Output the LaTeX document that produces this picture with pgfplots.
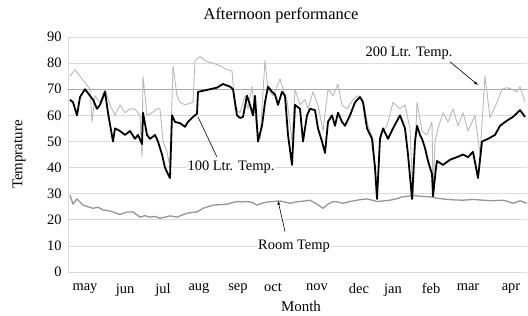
\documentclass[border=0pt]{standalone}
\usepackage{fontspec}
\setmainfont{Liberation Serif}
\usepackage{pgfplots}
\pgfplotsset{compat=1.18}
\usetikzlibrary{arrows.meta}
\definecolor{gridc}{HTML}{DADADA}
\definecolor{seventy}{HTML}{A8A8A8}
\definecolor{twohund}{HTML}{B8B8B8}
\definecolor{roomc}{HTML}{959595}
\begin{document}
\begin{tikzpicture}[x=1bp,y=1bp]
\begin{axis}[
  at={(0,0)}, anchor=south west,
  scale only axis, width=459bp, height=235bp,
  xmin=68, xmax=527, ymin=0, ymax=90,
  axis x line*=bottom, axis y line*=left,
  x axis line style={color=gridc, line width=0.6bp, -},
  y axis line style={color=gridc, line width=0.6bp, -},
  ytick={0,10,...,90},
  xtick={85,125,163,199,238,273,317,359,393,431,468,511},
  xticklabels={may,jun,jul,aug,sep,oct,nov,dec,jan,feb,mar,apr},
  tick style={draw=none},
  ymajorgrids, xmajorgrids=false, grid style={color=gridc, line width=0.6bp},
  tick label style={font=\fontsize{14.5}{16}\selectfont},
  /pgf/number format/assume math mode=true,
  yticklabel style={xshift=-3bp},
  xticklabel style={yshift=-8bp},
  clip=false,
]
\draw[color=seventy, line width=0.7bp] (axis cs:68,70) -- (axis cs:527,70);

% 200 Ltr. Temp.
\addplot[color=twohund, line width=0.9bp, line join=round] coordinates {
(70,75) (75,77.5) (80,75) (85,72.5) (90,70) (92,57.5) (95,67.5) (100,65) (105,70)
(110,64) (115,60) (120,64) (125,61) (130,62.5) (135,62.5) (140,60) (142,44) (143,75)
(147,60) (152,61) (157,62.5) (160,62.5) (163,50) (167,46) (170,40) (173,79) (177,67.5)
(180,65) (185,64) (193,65) (195,81) (200,82.5) (207,80.6) (213,80) (220,79) (227,77.5)
(232,77) (235,62.5) (240,61) (245,67.5) (248,62.5) (252,71) (257,54) (260,51) (265,81)
(268,70) (273,67.5) (280,74) (283,70) (287,66) (292,50) (295,70) (300,64) (305,66)
(308,62.5) (313,69) (318,64) (323,54) (328,70) (333,67.5) (338,72) (342,64) (347,62.5)
(353,66) (358,67.5) (363,66) (368,56) (373,51) (377,28) (380,52.5) (387,56) (393,65)
(400,62.5) (405,64) (410,55) (413,28) (417,65) (422,54) (427,52.5) (432,57.5) (433,30)
(435,50) (438,55) (443,61) (448,57.5) (453,62.5) (458,56) (463,61) (468,54) (475,60)
(480,45) (485,75) (490,59) (497,65) (502,70) (507,70.6) (512,70) (517,69) (520,71) (525,65)
};

% Room Temp
\addplot[color=roomc, line width=1.3bp, line join=round] coordinates {
(70,29.4) (73,26) (77,28) (83,25.6) (88,25) (93,24.4) (98,24.8) (103,23.8) (108,23.5) (113,23)
(120,22) (127,23) (133,23) (140,21) (145,21.6) (150,21) (155,21.3) (160,20.6) (165,21) (170,21.5)
(177,21) (182,21.8) (187,22.5) (192,22.8) (197,23) (203,24.4) (208,25) (213,25.6) (220,25.8) (227,26)
(232,26.5) (237,27) (242,26.8) (247,27) (252,26.7) (257,25.6) (263,26.5) (268,26.8) (273,27) (280,27.2)
(285,26.8) (290,26.3) (295,26.8) (300,27) (305,27.2) (310,27.5) (317,26) (323,24.4) (328,26) (333,27)
(338,26.8) (343,26.3) (350,27) (357,27.5) (362,27.8) (367,28) (372,27.5) (377,27) (383,27.2) (390,27.5)
(396,28) (403,28.8) (408,29) (413,29.4) (420,29) (430,28.8) (438,28.2) (447,27.8) (455,27.6) (463,27.5)
(473,27.8) (483,27.5) (493,27.3) (503,27.5) (508,27) (513,26.3) (520,27.3) (527,26.3)
};

% 100 Ltr. Temp.
\addplot[color=black, line width=1.8bp, line join=round] coordinates {
(70,66) (73,65) (77,60) (80,67) (85,70) (90,67.5) (93,66) (97,62.5) (100,64) (105,69)
(108,61) (113,50) (115,55) (120,54) (125,52.5) (130,54) (135,51) (138,52.5) (142,49) (143,61)
(147,52.5) (150,51) (155,52.5) (158,50) (162,45) (165,40) (168,37.5) (170,36) (172,60) (175,57.5)
(180,57) (185,55.6) (188,57.5) (193,59.4) (197,60.6) (198,69) (203,69.4) (210,70) (217,70.6) (223,72)
(230,71) (233,70) (237,60) (240,59) (243,59.4) (247,67.5) (250,64) (253,60) (255,67.5) (258,50)
(262,56) (265,65) (268,71) (272,69) (275,68) (278,64) (282,69) (285,67.5) (288,52.5) (292,41)
(295,64) (300,62.5) (303,50) (307,60) (310,62.5) (315,62) (318,55) (322,50) (325,45.6) (328,57.5)
(332,60) (335,56) (338,61) (342,57.5) (345,56) (350,60) (355,65) (360,67) (363,65) (367,55)
(372,51) (375,40) (377,28) (380,51) (383,55) (388,51) (393,55) (400,60) (405,55) (408,45)
(412,28) (415,50) (417,56) (420,52.5) (422,51) (425,47.5) (428,42.5) (432,37.5) (433,29) (436,40)
(437,42.5) (443,41) (450,43) (457,44) (463,45) (468,44) (473,46) (478,36) (482,50) (488,51)
(495,52.5) (500,56) (507,58) (513,59.4) (520,62) (525,59.4)
};

% annotations
\node[font=\fontsize{16.5}{18}\selectfont] at (axis cs:281,90) [yshift=22bp] {Afternoon performance};
\node[font=\fontsize{15}{17}\selectfont] at (axis cs:301,0) [yshift=-34bp] {Month};
\node[font=\fontsize{15}{17}\selectfont, rotate=90] at (axis cs:19,45) {Temprature};

\node[font=\fontsize{14.5}{16}\selectfont, fill=white, inner sep=1bp] at (axis cs:409,83.9) {200 Ltr. Temp.};
\draw[line width=0.6bp, -{Latex[length=4bp,width=3bp]}] (axis cs:450,80.5) -- (axis cs:478,71.6);

\draw[line width=0.6bp] (axis cs:217,44) -- (axis cs:198,59.4);
\node[font=\fontsize{14.5}{16}\selectfont, fill=white, inner sep=1bp] at (axis cs:231,40.2) {100 Ltr. Temp.};

\draw[line width=0.6bp, -{Latex[length=4bp,width=3bp]}] (axis cs:285,15.5) -- (axis cs:278,27.3);
\node[font=\fontsize{14.5}{16}\selectfont, fill=white, inner sep=1bp] at (axis cs:294,10) {Room Temp};
\end{axis}
\pgfresetboundingbox
\path (-68,-43) rectangle (460,272);
\end{tikzpicture}
\end{document}
